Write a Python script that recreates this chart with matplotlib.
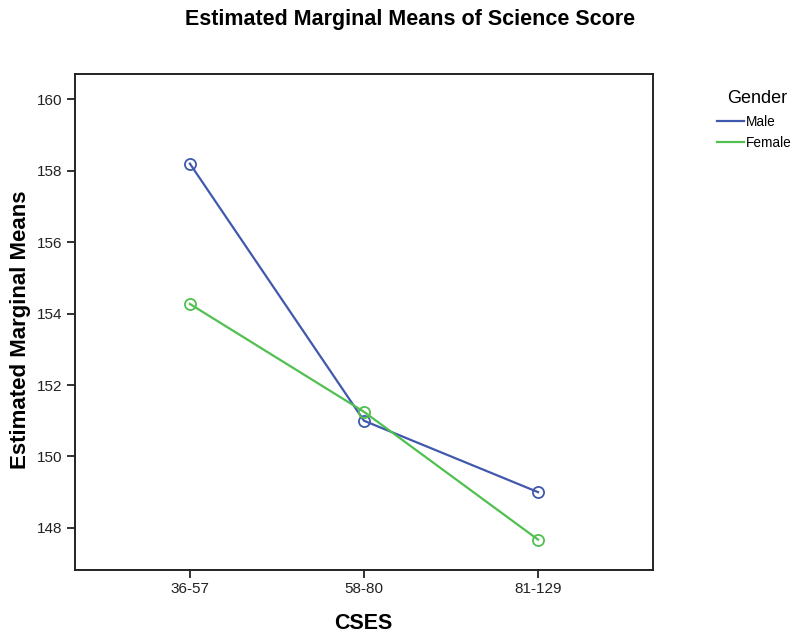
import matplotlib
matplotlib.use('Agg')
from matplotlib import pyplot as plt
from matplotlib.lines import Line2D

categories = ['36-57', '58-80', '81-129']
male = [158.2, 151.0, 149.0]
female = [154.27, 151.25, 147.67]
yticks = [148, 150, 152, 154, 156, 158, 160]

plt.rcParams['font.family'] = ['Liberation Sans', 'DejaVu Sans']

fig = plt.figure(figsize=(7.97, 6.36), dpi=100)
ax = fig.add_axes([0.0941, 0.1038, 0.7252, 0.7798])

blue = '#4159ad'
green = '#50c050'
x = range(len(categories))
ax.plot(x, male, color=blue, lw=1.6, marker='o', ms=8, mfc='none', mec=blue, mew=1.3)
ax.plot(x, female, color=green, lw=1.6, marker='o', ms=8, mfc='none', mec=green, mew=1.3)

ax.set_xlim(-0.66, 2.66)
ax.set_ylim(146.82, 160.71)
ax.set_xticks(list(x))
ax.set_xticklabels(categories)
ax.set_yticks(yticks)
ax.tick_params(direction='out', length=6, width=1.3, labelsize=11, colors='#222222', pad=3)
for s in ax.spines.values():
    s.set_linewidth(1.4)
    s.set_color('#222222')

ax.set_xlabel('CSES', fontsize=15.5, fontweight='bold', va='center')
ax.xaxis.set_label_coords(0.499, -0.107)
ax.set_ylabel('Estimated Marginal Means', fontsize=16, fontweight='bold', va='center')
ax.yaxis.set_label_coords(-0.095, 0.484)
fig.text(0.515, 0.972 + 0.014, 'Estimated Marginal Means of Science Score',
         ha='center', va='top', fontsize=15.5, fontweight='bold')

# legend: title drawn as plain text, entries below it
fig.text(0.9504, 0.845, 'Gender', ha='center', va='center', fontsize=13)
handles = [Line2D([], [], color=blue, lw=1.6), Line2D([], [], color=green, lw=1.6)]
fig.legend(handles, ['Male', 'Female'], loc='center left',
           bbox_to_anchor=(0.8996, 0.7915), frameon=False, fontsize=9.8,
           borderpad=0, borderaxespad=0, handlelength=1.95, handletextpad=0.15,
           labelspacing=0.5)

fig.savefig('out.png', dpi=100)
